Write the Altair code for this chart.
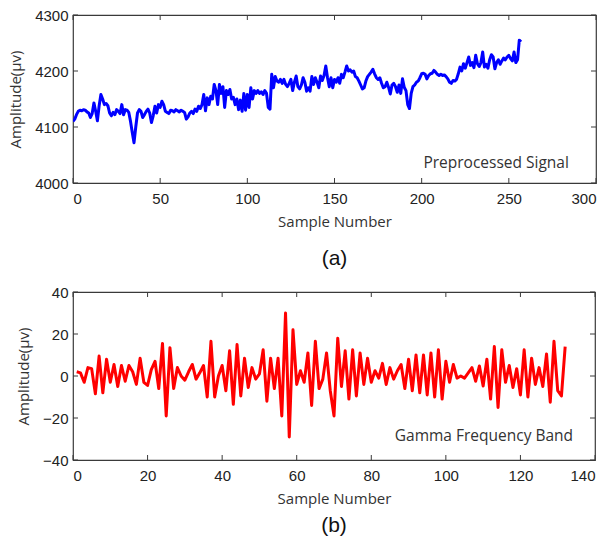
import altair as alt
import pandas as pd

# Preprocessed EEG signal, one value per sample (µV)
pre_amp = [
    4110, 4114, 4122, 4128, 4130, 4129, 4131, 4130, 4127, 4125,
    4117, 4124, 4143, 4128, 4111, 4138, 4158, 4150, 4140, 4142,
    4138, 4125, 4120, 4126, 4122, 4131, 4128, 4124, 4140, 4122,
    4131, 4130, 4126, 4110, 4090, 4072, 4100, 4125, 4131, 4128,
    4117, 4122, 4128, 4132, 4125, 4108, 4120, 4137, 4125, 4140,
    4135, 4146, 4140, 4128, 4126, 4124, 4130, 4129, 4127, 4131,
    4129, 4127, 4130, 4128, 4126, 4114, 4118, 4125, 4128, 4124,
    4132, 4128, 4137, 4133, 4140, 4158, 4129, 4152, 4140, 4155,
    4150, 4176, 4165, 4140, 4176, 4160, 4172, 4135, 4165, 4158,
    4167, 4150, 4153, 4140, 4150, 4131, 4148, 4128, 4160, 4130,
    4158, 4135, 4170, 4150, 4165, 4160, 4165, 4160, 4163, 4158,
    4165, 4160, 4135, 4132, 4194, 4170, 4190, 4182, 4180, 4185,
    4178, 4185, 4176, 4172, 4178, 4185, 4165, 4180, 4191, 4172,
    4168, 4175, 4188, 4180, 4164, 4170, 4164, 4190, 4176, 4188,
    4180, 4170, 4191, 4183, 4192, 4209, 4188, 4172, 4188, 4170,
    4185, 4180, 4188, 4178, 4194, 4188, 4198, 4209, 4200, 4202,
    4198, 4200, 4190, 4188, 4182, 4175, 4168, 4170, 4182, 4190,
    4194, 4198, 4203, 4195, 4188, 4185, 4188, 4178, 4170, 4172,
    4180, 4171, 4159, 4175, 4178, 4172, 4162, 4175, 4160, 4186,
    4171, 4165, 4140, 4133, 4160, 4172, 4175, 4180, 4182, 4188,
    4195, 4196, 4194, 4186, 4192, 4195, 4196, 4201, 4198, 4194,
    4192, 4194, 4192, 4193, 4190, 4186, 4180, 4178, 4183, 4182,
    4185, 4195, 4207, 4200, 4213, 4205, 4215, 4225, 4210, 4215,
    4206, 4228, 4213, 4208, 4215, 4234, 4207, 4212, 4205, 4220,
    4229, 4225, 4204, 4215, 4220, 4212, 4218, 4223, 4220, 4225,
    4228, 4222, 4218, 4234, 4215, 4220, 4255, 4252,
]
pre_n = list(range(len(pre_amp)))

# Gamma frequency band of the same recording (µV), samples 1..132
gamma_amp = [
    2, 1.5, -3, 4, 3.5, -8.5, 9.5, -8, 8, -3,
    5.5, -5, 5, -2.5, 5, 2, -4, 8.5, -3, -4.5,
    3, 7, -6, 15.5, -19, 13.5, -6, 4, 0, -2,
    2, 5.5, -1.5, 1.5, 5, -10, 16.5, -10, 0, 5,
    -7, 12, -13.5, 15, -9.5, 8.5, -5.5, 4, -1.5, 1,
    12.5, -12, 8.5, -6, 8.5, -19, 30, -29, 22, -4,
    2.5, -3, 11, -14, 16.5, -6, -1.5, 11, -7, -19,
    18, -5, 12, -11, 12.5, -9.5, 11, -4, 8.5, -3,
    2.5, -1, 6, -4, 4, -1.5, 2.5, 5.5, -6, 8,
    -7, 10, -8, 10, -9, 11, -10, 12.5, -11, 7,
    -3, 5.5, -1, 0, -1, 1.5, 4, -2.5, 4.8, -4.8,
    8, -11, 14, -15, 12.5, -3, 5, -5.5, 3.5, -9,
    12.5, -10, 8.5, -4, 4, -5, 10.5, -12.5, 16.5, -7,
    -9.5, 14,
]
gamma_n = list(range(1, len(gamma_amp) + 1))

pre_xticks = [0, 50, 100, 150, 200, 250, 300]
pre_yticks = [4000, 4100, 4200, 4300]
gamma_xticks = [0, 20, 40, 60, 80, 100, 120, 140]
gamma_yticks = [-40, -20, 0, 20, 40]

LABEL_FONT = "Liberation Sans"
TEXT_FONT = "Open Sans"
FRAME = "#3a3a3a"
H = 168
TICK = 5


def panel(xs, ys, color, x_dom, y_dom, x_ticks, y_ticks, note, note_at,
          caption, caption_offset, W):
    df = pd.DataFrame({"n": xs, "v": ys})
    X = alt.X(
        "n:Q",
        scale=alt.Scale(domain=x_dom, nice=False, zero=False),
        axis=alt.Axis(
            values=x_ticks, format="d", title="Sample Number", grid=False,
            ticks=False, domain=False, labelPadding=8, titlePadding=8,
            labelFont=LABEL_FONT, labelFontSize=15, labelColor="#222",
            titleFont=TEXT_FONT, titleFontSize=15, titleFontWeight="normal",
            titleColor="#333",
        ),
    )
    Y = alt.Y(
        "v:Q",
        scale=alt.Scale(domain=y_dom, nice=False, zero=False),
        axis=alt.Axis(
            values=y_ticks, format="d", title="Amplitude(μv)", grid=False,
            ticks=False, domain=False, labelPadding=5, titlePadding=11,
            labelFont=LABEL_FONT, labelFontSize=15, labelColor="#222",
            titleFont=TEXT_FONT, titleFontSize=15, titleFontWeight="normal",
            titleColor="#333",
        ),
    )
    line = alt.Chart(df).mark_line(
        color=color, strokeWidth=3, strokeJoin="round", clip=True
    ).encode(x=X, y=Y)

    xt = pd.DataFrame({"n": x_ticks})
    yt = pd.DataFrame({"v": y_ticks})
    rule = dict(color=FRAME, strokeWidth=1)
    x_bottom = alt.Chart(xt).mark_rule(**rule).encode(
        x=X, y=alt.value(H), y2=alt.value(H - TICK))
    x_top = alt.Chart(xt).mark_rule(**rule).encode(
        x=X, y=alt.value(0), y2=alt.value(TICK))
    y_left = alt.Chart(yt).mark_rule(**rule).encode(
        y=Y, x=alt.value(0), x2=alt.value(TICK))
    y_right = alt.Chart(yt).mark_rule(**rule).encode(
        y=Y, x=alt.value(W), x2=alt.value(W - TICK))

    label = alt.Chart(
        pd.DataFrame({"n": [note_at[0]], "v": [note_at[1]], "t": [note]})
    ).mark_text(
        align="left", baseline="middle", font=TEXT_FONT, fontSize=15.5, color="#333"
    ).encode(x=X, y=Y, text="t:N")

    return alt.layer(line, x_bottom, x_top, y_left, y_right, label).properties(
        width=W,
        height=H,
        title=alt.TitleParams(
            caption, orient="bottom", anchor="middle", font=LABEL_FONT,
            fontSize=21, fontWeight="normal", color="#111", offset=caption_offset,
        ),
    )


top = panel(pre_n, pre_amp, "#0000ff", [0, 300], [4000, 4300],
            pre_xticks, pre_yticks, "Preprocessed Signal", (201, 4036),
            "(a)", 19, 523)
bottom = panel(gamma_n, gamma_amp, "#ff0000", [0, 140], [-40, 40],
               gamma_xticks, gamma_yticks, "Gamma Frequency Band", (86.3, -28.6),
               "(b)", 9, 522)

chart = alt.vconcat(top, bottom, spacing=14).properties(
    padding={"left": 8, "top": 7, "right": 10, "bottom": 5},
    background="white",
).configure_view(stroke=FRAME, strokeWidth=1.2)

chart.save("out.html", embed_options={"renderer": "svg", "actions": False})
